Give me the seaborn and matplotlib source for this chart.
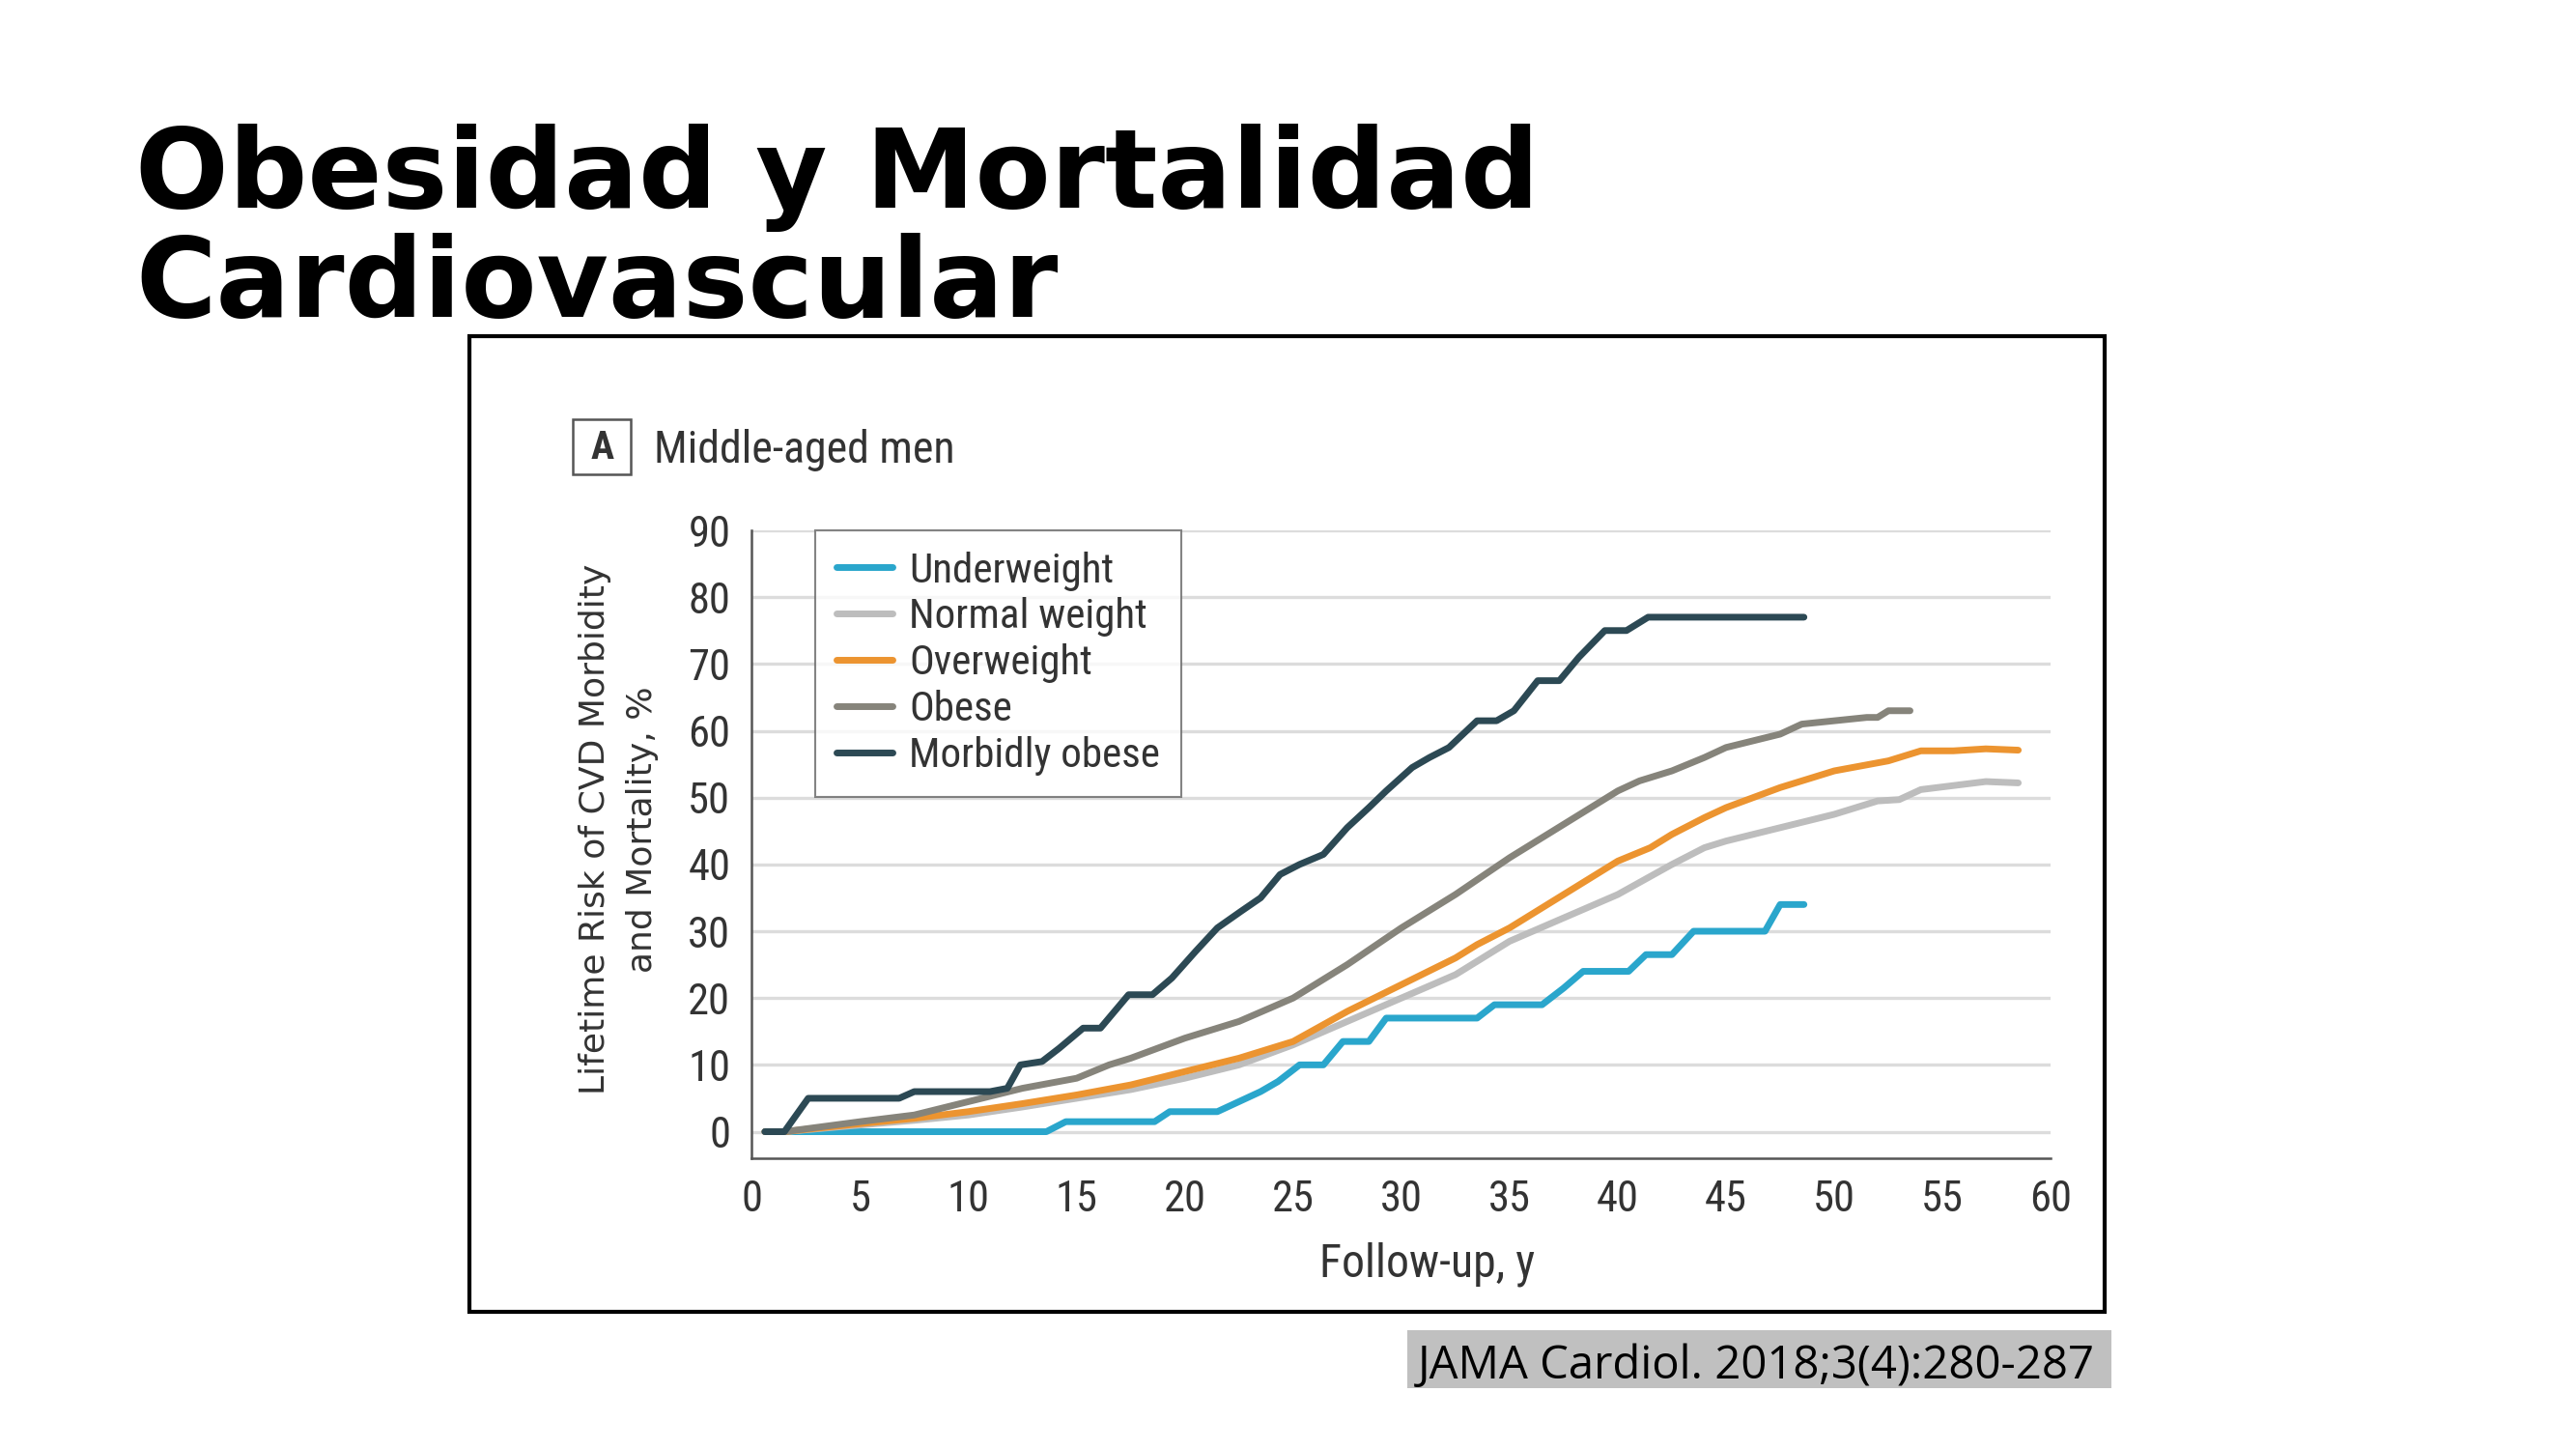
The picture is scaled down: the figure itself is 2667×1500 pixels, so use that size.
import numpy as np
import pandas as pd
import matplotlib.pyplot as plt
import seaborn as sns
from matplotlib.patches import Rectangle
from matplotlib import font_manager as fm

# series (follow-up years, risk %)
groups = ['Underweight', 'Normal weight', 'Overweight', 'Obese', 'Morbidly obese']
colors = ['#2aa6cc', '#bdbdbd', '#ec9430', '#86847b', '#2c4954']

uw_x = [0.6, 13.6, 14.5, 18.6, 19.3, 21.5, 22.5, 23.5, 24.3, 25.3, 26.4, 27.3, 28.5, 29.3,
        33.5, 34.3, 36.5, 37.5, 38.4, 40.5, 41.3, 42.5, 43.5, 46.8, 47.5, 48.6]
uw_y = [0, 0, 1.5, 1.5, 3, 3, 4.5, 6, 7.5, 10, 10, 13.5, 13.5, 17,
        17, 19, 19, 21.5, 24, 24, 26.5, 26.5, 30, 30, 34, 34]

nw_x = [0.6, 1.5, 5, 7.5, 10, 12.5, 15, 17.5, 20, 22.5, 25, 27.5, 30, 32.5, 35, 37.5,
        40, 42.5, 44, 45, 47.5, 50, 52, 53, 54, 56, 57, 58.5]
nw_y = [0, 0, 1, 1.7, 2.5, 3.7, 5, 6.3, 8, 10, 13, 16.5, 20, 23.5, 28.5, 32,
        35.5, 40, 42.5, 43.5, 45.5, 47.5, 49.5, 49.7, 51.2, 52, 52.4, 52.2]

ow_x = [0.6, 1.5, 5, 7.5, 10, 12.5, 15, 17.5, 20, 22.5, 25, 27.5, 30, 32.5, 33.5, 35,
        37.5, 40, 41.5, 42.5, 44, 45, 47.5, 49, 50, 52.5, 54, 55.5, 57, 58.5]
ow_y = [0, 0, 1.2, 2, 3, 4.2, 5.5, 7, 9, 11, 13.5, 18, 22, 26, 28, 30.5,
        35.5, 40.5, 42.5, 44.5, 47, 48.5, 51.5, 53, 54, 55.5, 57, 57, 57.3, 57.1]

ob_x = [0.6, 1.5, 5, 7.5, 10, 12.5, 15, 16.5, 17.5, 20, 22.5, 25, 27.5, 30, 32.5, 35,
        37.5, 40, 41, 42.5, 44, 45, 47.5, 48.5, 50, 51.5, 52, 52.5, 53.5]
ob_y = [0, 0, 1.5, 2.5, 4.5, 6.5, 8, 10, 11, 14, 16.5, 20, 25, 30.5, 35.5, 41,
        46, 51, 52.5, 54, 56, 57.5, 59.5, 61, 61.5, 62, 62, 63, 63]

mo_x = [0.6, 1.5, 2.6, 6.8, 7.5, 11.0, 11.8, 12.4, 13.4, 14.2, 15.3, 16.1, 17.4, 18.5,
        19.4, 20.5, 21.5, 22.6, 23.5, 24.4, 25.3, 26.4, 27.5, 28.5, 29.3, 30.5, 31.3,
        32.2, 33.5, 34.4, 35.2, 36.3, 37.3, 38.2, 39.4, 40.4, 41.4, 48.6]
mo_y = [0, 0, 5, 5, 6, 6, 6.5, 10, 10.5, 12.5, 15.5, 15.5, 20.5, 20.5,
        23, 27, 30.5, 33, 35, 38.5, 40, 41.5, 45.5, 48.5, 51, 54.5, 56,
        57.5, 61.5, 61.5, 63, 67.5, 67.5, 71, 75, 75, 77, 77]

xs = [uw_x, nw_x, ow_x, ob_x, mo_x]
ys = [uw_y, nw_y, ow_y, ob_y, mo_y]
frames = []
for g, x, y in zip(groups, xs, ys):
    frames.append(pd.DataFrame({'t': x, 'risk': y, 'group': g}))
df = pd.concat(frames, ignore_index=True)

# the journal figure uses a condensed face; take a narrow one if there is any
names = {f.name for f in fm.fontManager.ttflist}
narrow = 'Roboto'
for n in ['Liberation Sans Narrow', 'DejaVu Sans Condensed', 'Roboto Condensed',
          'Open Sans Condensed', 'Noto Sans Condensed']:
    if n in names:
        narrow = n
        break
has_cond = any(f.name == 'DejaVu Sans' and 'condensed' in str(f.stretch) for f in fm.fontManager.ttflist)
if narrow == 'Roboto' and has_cond:
    narrow = 'DejaVu Sans'
    plt.rcParams['font.stretch'] = 'condensed'

sns.set_style('white')
plt.rcParams['font.family'] = [narrow, 'DejaVu Sans']
txt = '#333333'

fig = plt.figure(figsize=(26.67, 15), dpi=100)
ax = fig.add_axes([0.2919, 0.201, 0.5042, 0.433])

sns.lineplot(data=df, x='t', y='risk', hue='group', hue_order=groups,
             palette=colors, estimator=None, sort=False, lw=5, ax=ax)

ax.set_xlim(0, 60)
ax.set_ylim(-3.9, 90)
ax.set_xticks(range(0, 61, 5))
ax.set_yticks(range(0, 91, 10))
ax.yaxis.grid(True, color='#dcdcdc', lw=2.4)
ax.set_axisbelow(True)
sns.despine(ax=ax)
for s in ['left', 'bottom']:
    ax.spines[s].set_color('#555555')
    ax.spines[s].set_linewidth(1.8)
ax.tick_params(axis='both', colors='#555555', labelcolor=txt, labelsize=32,
               length=10, width=1.8, direction='out', pad=6)
ax.set_xlabel('')
ax.set_ylabel('')

handles, labels = ax.get_legend_handles_labels()
leg = ax.legend(handles, labels, loc='upper left', bbox_to_anchor=(0.049, 1.0),
                frameon=True, fancybox=False, edgecolor='#666666', fontsize=31,
                handlelength=1.35, handletextpad=0.4, labelspacing=0.16,
                borderpad=0.5, borderaxespad=0)
leg.get_frame().set_linewidth(1.5)
for t in leg.get_texts():
    t.set_color(txt)

# outer frame of the figure panel
fig.patches.append(Rectangle((0.1823, 0.0947), 0.6348, 0.673, transform=fig.transFigure,
                             fill=False, ec='black', lw=3))

# panel label
fig.patches.append(Rectangle((0.2224, 0.6727), 0.0225, 0.0383, transform=fig.transFigure,
                             fill=False, ec='#555555', lw=1.8))
fig.text(0.2337, 0.6905, 'A', fontsize=29, fontweight='bold', color=txt, ha='center', va='center')
fig.text(0.2537, 0.6895, 'Middle-aged men', fontsize=33, color=txt, ha='left', va='center')

fig.text(0.2403, 0.4277, 'Lifetime Risk of CVD Morbidity\nand Mortality, %', rotation=90,
         fontsize=26, color=txt, ha='center', va='center', multialignment='center',
         family='DejaVu Sans', stretch='normal', linespacing=1.55)
fig.text(0.5539, 0.1273, 'Follow-up, y', fontsize=34.5, color=txt, ha='center', va='center')

# slide title
fig.text(0.0525, 0.8567, 'Obesidad y Mortalidad', fontsize=82, fontweight='bold',
         family='DejaVu Sans', stretch='normal', color='black', ha='left', va='baseline')
fig.text(0.0525, 0.7813, 'Cardiovascular', fontsize=82, fontweight='bold',
         family='DejaVu Sans', stretch='normal', color='black', ha='left', va='baseline')

# citation
fig.patches.append(Rectangle((0.5463, 0.0423), 0.2734, 0.0397, transform=fig.transFigure,
                             fc='#c0c0c0', ec='none'))
fig.text(0.5505, 0.0487, 'JAMA Cardiol. 2018;3(4):280-287', fontsize=34, color='black',
         family=['Open Sans', 'DejaVu Sans'], stretch='normal', ha='left', va='baseline')

fig.savefig('out.png', dpi=100)
